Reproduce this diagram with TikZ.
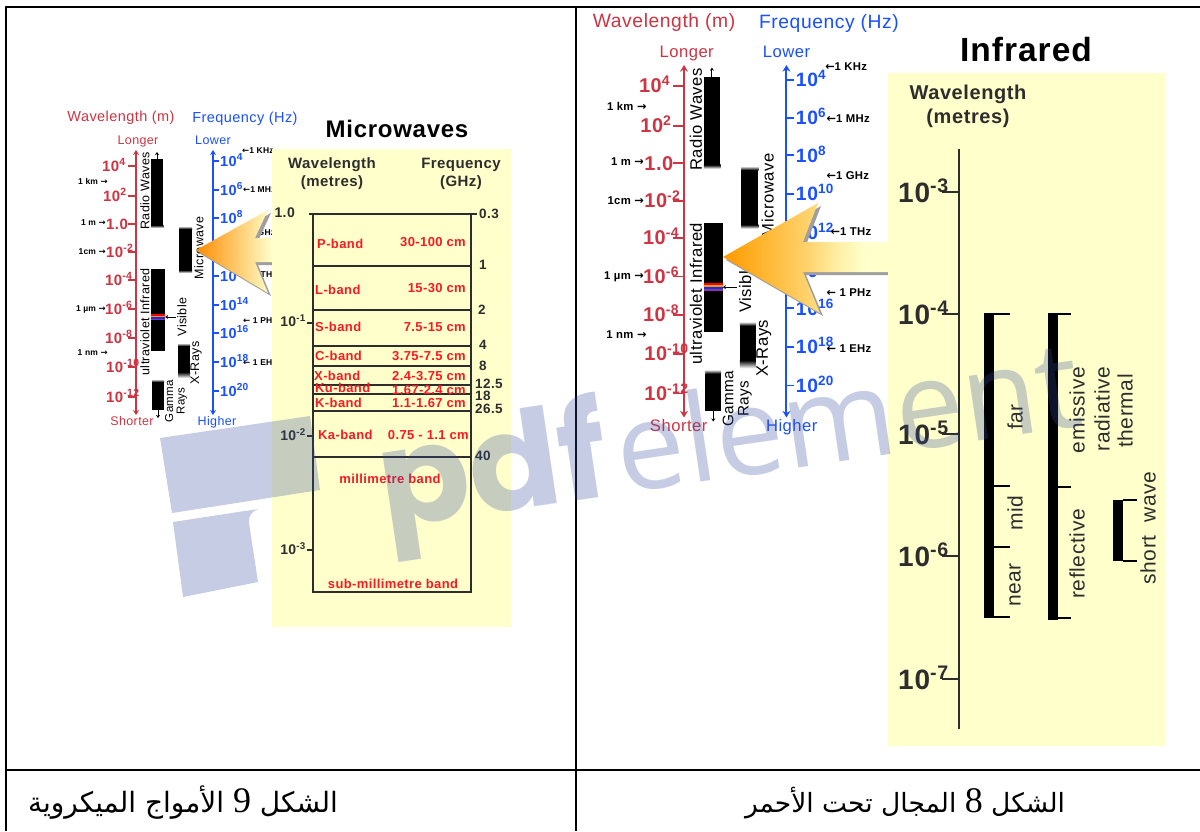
\documentclass[tikz,border=0pt]{standalone}
\usepackage{fontspec}
\usepackage{xcolor}
\usetikzlibrary{arrows.meta, positioning, calc}
\setmainfont[LetterSpace=3]{Liberation Sans}
\newfontfamily\arabicfont[Script=Arabic]{DejaVu Sans}
\newfontfamily\capdigit{Liberation Serif}
\newfontfamily\arrowfont{DejaVu Sans}
\newfontfamily\markbold{Poppins Bold}
\newfontfamily\marklight{Open Sans}
\TeXXeTstate=1
\definecolor{panelyellow}{RGB}{255,255,204}
\definecolor{wlred}{RGB}{206,52,66}
\definecolor{freqblue}{RGB}{25,80,255}
\definecolor{bandred}{RGB}{250,25,35}
\definecolor{darktext}{RGB}{45,45,45}
\definecolor{markblue}{RGB}{51,73,155}
\newcommand{\fs}[1]{\fontsize{#1}{#1}\selectfont}
\newcommand{\toright}{{\arrowfont →}}
\newcommand{\toleft}{{\arrowfont ←}}
\pgfdeclarehorizontalshading{arrowfade}{100bp}{
    rgb(0bp)=(1,0.6,0); rgb(25bp)=(1,0.6,0); rgb(38bp)=(1,0.72,0.2); rgb(50bp)=(1,0.82,0.42);
    rgb(60bp)=(1,0.94,0.65); rgb(68bp)=(1,1,0.8); rgb(100bp)=(1,1,0.8)}
% the scale chart shared by both cells: prefix, x, y, scale, line width
\newcommand{\spectrumchart}[5]{
\begin{scope}[shift={(#2,#3)}, scale=#4, transform shape]
    % Axis titles
    \node[charttitle, color=wlred, font=\fs{14.5}] (#1wltitle) at (-15,-32) {Wavelength (m)};
    \node[charttitle, color=freqblue, font=\fs{14.5}] (#1frtitle) at (109,-31) {Frequency (Hz)};
    \node[charttitle, color=wlred] (#1longer) at (2,-9) {Longer};
    \node[charttitle, color=wlred] (#1shorter) at (-4,271) {Shorter};
    \node[charttitle, color=freqblue] (#1lower) at (77,-10) {Lower};
    \node[charttitle, color=freqblue] (#1higher) at (81,272) {Higher};
    % Axes
    \coordinate (#1rtop) at (0,0);
    \coordinate (#1rbot) at (0,265);
    \coordinate (#1btop) at (77,0);
    \coordinate (#1bbot) at (77,265);
    \draw[line width=#5, wlred, {Stealth[length=5pt,width=6pt,scale=#4]}-{Stealth[length=5pt,width=6pt,scale=#4]}] (#1rtop) -- (#1rbot);
    \draw[line width=#5, freqblue, {Stealth[length=5pt,width=6pt,scale=#4]}-{Stealth[length=5pt,width=6pt,scale=#4]}] (#1btop) -- (#1bbot);
    % Wavelength scale
    \foreach \yy/\lab/\xx in {16/4/-34, 46/2/-33, 102/-2/-30, 130/-4/-31, 159/-6/-31, 188/-8/-31, 217/-10/-30, 247/-12/-30}{
        \draw[line width=#5, wlred] (-8,\yy) -- (0,\yy);
        \node[wlvalue] (#1wl\yy) at (\xx,\yy) {10\textsuperscript{\lab}};
    }
    \draw[line width=#5, wlred] (-8,74) -- (0,74);
    \node[wlvalue] (#1wl74) at (-30,74) {1.0};
    % Frequency scale
    \foreach \yy/\lab in {11/4, 40/6, 68/8, 97/10, 126/12, 155/14, 183/16, 212/18, 241/20}{
        \draw[line width=#5, freqblue] (77,\yy) -- (83,\yy);
        \node[frvalue] (#1fr\yy) at (84,\yy) {10\textsuperscript{\lab}};
    }
    % Tags
    \node[tagtext, anchor=east] (#1km) at (-28,31) {1 km \toright};
    \node[tagtext, anchor=east] (#1m) at (-30,73) {1 m \toright};
    \node[tagtext, anchor=east] (#1cm) at (-30,102) {1cm \toright};
    \node[tagtext, anchor=east] (#1um) at (-30,159) {1 µm \toright};
    \node[tagtext, anchor=east] (#1nm) at (-28,203) {1 nm \toright};
    \node[tagtext, anchor=west] (#1khz) at (106,1) {\toleft 1 KHz};
    \node[tagtext, anchor=west] (#1mhz) at (107,40) {\toleft 1 MHz};
    \node[tagtext, anchor=west] (#1ghz) at (107,83) {\toleft 1 GHz};
    \node[tagtext, anchor=west] (#1thz) at (110,125) {\toleft 1 THz};
    \node[tagtext, anchor=west] (#1phz) at (107,171) {\toleft\ 1 PHz};
    \node[tagtext, anchor=west] (#1ehz) at (107,213) {\toleft\ 1 EHz};
    % Bars
    \node[barbox, minimum width=12.5, minimum height=66] (#1radio) at (21,42) {};
    \shade[top color=black, bottom color=white] (15,75) rectangle (27.5,78);
    \node[barbox, minimum width=14, minimum height=82] (#1uv) at (22,160) {};
    \node[barbox, minimum width=13, minimum height=41] (#1micro) at (49.5,99.5) {};
    \shade[top color=white, bottom color=black] (43,76) rectangle (56,79);
    \shade[top color=black, bottom color=white] (43,120) rectangle (56,123);
    \node[barbox, minimum width=12, minimum height=27] (#1xray) at (48,209) {};
    \shade[top color=white, bottom color=black] (42,193) rectangle (54,196);
    \shade[top color=black, bottom color=white] (42,222) rectangle (54,228);
    \node[barbox, minimum width=12, minimum height=28] (#1gamma) at (22,246) {};
    \shade[top color=white, bottom color=black] (16,229) rectangle (28,232);
    % Visible bands
    \fill[red] (15,164) rectangle (29,165.5);
    \fill[orange!80!yellow] (15,165.5) rectangle (29,167);
    \fill[blue!80!cyan] (15,167) rectangle (29,168.5);
    \fill[violet!80] (15,168.5) rectangle (29,170);
    % Small arrows
    \coordinate (#1radiotip) at (21,2);
    \coordinate (#1gammatip) at (22,268);
    \coordinate (#1vistail) at (40,167);
    \draw[smallarrow] (#1radio.north) -- (#1radiotip);
    \draw[smallarrow] (#1gamma.south) -- (#1gammatip);
    \draw[smallarrow] (#1vistail) -- (#1vistail -| #1uv.east);
    % Band names
    \node[bandname] (#1radiotxt) at (9,41) {Radio Waves};
    \node[bandname] (#1uvtxt) at (9,172) {ultraviolet Infrared};
    \node[bandname] (#1microtxt) at (63,98) {Microwave};
    \node[bandname] (#1vistxt) at (46,167) {Visible};
    \node[bandname] (#1xraytxt) at (60,213) {X-Rays};
    \node[bandname, align=center, font=\fs{11.5}] (#1gammatxt) at (40,251) {Gamma\\Rays};
\end{scope}
}
\begin{document}
\begin{tikzpicture}[x=1pt, y=-1pt,
    charttitle/.style={inner sep=0pt, font=\fs{12.5}},
    wlvalue/.style={anchor=west, inner sep=0pt, text height=10pt, text depth=0pt, color=wlred, font=\fs{15}\bfseries},
    frvalue/.style={anchor=west, inner sep=0pt, text height=10pt, text depth=0pt, color=freqblue, font=\fs{14.5}\bfseries},
    tagtext/.style={inner sep=0pt, font=\fs{8.5}\bfseries},
    barbox/.style={rectangle, fill=black, inner sep=0pt},
    bandname/.style={rotate=90, inner sep=0pt, font=\fs{12.5}},
    smallarrow/.style={-{Stealth[length=3pt,width=4pt]}, line width=0.9pt},
    panel/.style={fill=panelyellow},
    paneltitle/.style={inner sep=0pt, color=black, font=\bfseries},
    head/.style={inner sep=0pt, align=center, color=darktext, font=\fs{15}\bfseries},
    ghzvalue/.style={anchor=west, inner sep=0pt, color=darktext, font=\fs{13.5}\bfseries},
    powvalue/.style={anchor=east, inner sep=0pt, text height=9.5pt, text depth=0pt, color=darktext, font=\fs{14}\bfseries},
    bandlabel/.style={inner sep=0pt, color=bandred, font=\fs{13}\bfseries},
    irlabel/.style={rotate=90, inner sep=0pt, color=darktext, font=\fs{21}},
    irvalue/.style={anchor=west, inner sep=0pt, text height=20pt, text depth=0pt, color=darktext, font=\fs{28}\bfseries},
    captiontext/.style={inner sep=0pt},
    gridline/.style={line width=2pt, black},
    arrowshadow/.style={fill=gray!75, shift={(3,3)}},
    markink/.style={fill=markblue, opacity=0.28}
]
    \useasboundingbox (0,0) rectangle (1200,831);
    \fill[white] (0,0) rectangle (1200,831);

    % Table rules
    \coordinate (gridtl) at (6,7);
    \coordinate (gridtr) at (1200,7);
    \coordinate (gridbl) at (6,831);
    \coordinate (midtop) at (576,7);
    \coordinate (midbot) at (576,831);
    \coordinate (rowl) at (6,770);
    \coordinate (rowr) at (1200,770);
    \draw[gridline] (gridbl) -- (gridtl) -- (gridtr);
    \draw[gridline] (midtop) -- (midbot);
    \draw[gridline] (rowl) -- (rowr);

    % Charts
    \spectrumchart{a}{136}{150}{1}{1.4pt}
    \spectrumchart{b}{684}{65}{1.33}{1.9pt}

    % Arrow shadows
    \fill[arrowshadow] (196,250) -- (268,210) -- (255,238) -- (272,238) -- (272,262) -- (255,262) -- (268,293) -- cycle;
    \fill[arrowshadow] (723,257) -- (818,203) -- (803,242) -- (888,242) -- (888,272) -- (803,272) -- (820,313) -- cycle;

    % Microwaves panel
    \fill[panel] (272,149) rectangle (511,627);
    \node[paneltitle, font=\fs{24}\bfseries] (mwtitle) at (397,129) {Microwaves};
    \node[head] (mwwave) at (332,174) {Wavelength\\[3pt](metres)};
    \node[head] (mwfreq) at (461,174) {Frequency\\[3pt](GHz)};
    % Band table
    \coordinate (mwtl) at (313,214);
    \coordinate (mwbr) at (471,592);
    \draw[line width=1.2pt, darktext] (mwtl) rectangle (mwbr);
    \foreach \yy in {266,310,346,366,385,394,411,457}{
        \draw[line width=1.1pt, darktext] (313,\yy) -- (471,\yy);
    }
    \draw[line width=1.1pt, darktext] (309,214) -- (313,214);
    \draw[line width=1.1pt, darktext] (471,214) -- (477,214);
    % GHz values
    \node[ghzvalue] (ghz0) at (479,214) {0.3};
    \node[ghzvalue] (ghz1) at (479,265) {1};
    \node[ghzvalue] (ghz2) at (478,310) {2};
    \node[ghzvalue] (ghz4) at (479,345) {4};
    \node[ghzvalue] (ghz8) at (479,366) {8};
    \node[ghzvalue] (ghz12) at (475,384) {12.5};
    \node[ghzvalue] (ghz18) at (475,396) {18};
    \node[ghzvalue] (ghz26) at (475,409) {26.5};
    \node[ghzvalue] (ghz40) at (475,456) {40};
    % Metre values
    \node[powvalue] (mw0) at (295,213) {1.0};
    \node[powvalue] (mw1) at (306,322) {10\textsuperscript{-1}};
    \node[powvalue] (mw2) at (306,436) {10\textsuperscript{-2}};
    \node[powvalue] (mw3) at (306,550) {10\textsuperscript{-3}};
    \draw[line width=1.1pt, darktext] (307,323) -- (313,323);
    \draw[line width=1.1pt, darktext] (307,436) -- (313,436);
    \draw[line width=1.1pt, darktext] (307,550) -- (313,550);
    % Band names
    \node[bandlabel, anchor=west] (pband) at (317,244) {P-band};
    \node[bandlabel, anchor=west] (lband) at (315,290) {L-band};
    \node[bandlabel, anchor=west] (sband) at (315,327) {S-band};
    \node[bandlabel, anchor=west] (cband) at (315,356) {C-band};
    \node[bandlabel, anchor=west] (xband) at (314,376) {X-band};
    \node[bandlabel, anchor=west] (kuband) at (315,388) {Ku-band};
    \node[bandlabel, anchor=west] (kband) at (315,403) {K-band};
    \node[bandlabel, anchor=west] (kaband) at (318,435) {Ka-band};
    \node[bandlabel, anchor=east] (prange) at (466,242) {30-100 cm};
    \node[bandlabel, anchor=east] (lrange) at (466,288) {15-30 cm};
    \node[bandlabel, anchor=east] (srange) at (466,327) {7.5-15 cm};
    \node[bandlabel, anchor=east] (crange) at (466,356) {3.75-7.5 cm};
    \node[bandlabel, anchor=east] (xrange) at (466,376) {2.4-3.75 cm};
    \node[bandlabel, anchor=east] (kurange) at (466,390) {1.67-2.4 cm};
    \node[bandlabel, anchor=east] (krange) at (466,403) {1.1-1.67 cm};
    \node[bandlabel, anchor=east] (karange) at (469,435) {0.75 - 1.1 cm};
    \node[bandlabel] (mmband) at (390,479) {millimetre band};
    \node[bandlabel] (submm) at (393,584) {sub-millimetre band};

    % Infrared panel
    \fill[panel] (888,73) rectangle (1165,746);
    \node[paneltitle, font=\fs{33.5}\bfseries] (irtitle) at (1026,50) {Infrared};
    \node[head, font=\fs{20}\bfseries] (irwave) at (968,106) {Wavelength\\[4pt](metres)};
    \coordinate (irtop) at (959,149);
    \coordinate (irbot) at (959,729);
    \draw[line width=1.8pt, darktext] (irtop) -- (irbot);
    \foreach \yy/\lab in {192/-3, 314/-4, 434/-5, 556/-6, 679/-7}{
        \draw[line width=1.8pt, darktext] (942,\yy) -- (959,\yy);
        \node[irvalue] (ir\yy) at (898,\yy) {10\textsuperscript{\lab}};
    }
    % Brackets
    \fill[black] (984,313) rectangle (994,618);
    \fill[black] (1048,313) rectangle (1058,620);
    \fill[black] (1113,500) rectangle (1123,561);
    \foreach \yy in {314,486,547,617}{
        \draw[line width=1.5pt] (994,\yy) -- (1010,\yy);
    }
    \foreach \yy in {314,487,618}{
        \draw[line width=1.5pt] (1058,\yy) -- (1071,\yy);
    }
    \foreach \yy in {500,561}{
        \draw[line width=1.5pt] (1123,\yy) -- (1137,\yy);
    }
    \node[irlabel] (far) at (1015,417) {far};
    \node[irlabel] (mid) at (1015,513) {mid};
    \node[irlabel] (near) at (1015,585) {near};
    \node[irlabel] (emissive) at (1077,410) {emissive};
    \node[irlabel] (radiative) at (1102,409) {radiative};
    \node[irlabel] (thermal) at (1125,411) {thermal};
    \node[irlabel] (reflective) at (1077,554) {reflective};
    \node[irlabel] (shortwave) at (1148,528) {short\ \ wave};

    % Big arrows
    \path[left color=orange!90!yellow, middle color=orange!60!yellow!70!white, right color=panelyellow] (196,250) -- (268,210) -- (255,238) -- (272,238) -- (272,262) -- (255,262) -- (268,293) -- cycle;
    \shade[shading=arrowfade] (723,257) -- (818,203) -- (803,242) -- (888,242) -- (888,272) -- (803,272) -- (820,313) -- cycle;

    % Captions
    \node[captiontext, font=\fs{28}] (cap9) at (183,803) {\arabicfont\beginR الشكل {\fs{36}\capdigit 9} الأمواج الميكروية\endR};
    \node[captiontext, font=\fs{26.5}] (cap8) at (905,803) {\arabicfont\beginR الشكل {\fs{36}\capdigit 8} المجال تحت الأحمر\endR};

    % Watermark
    \fill[markink] (160,438) -- (310,416) -- (320,490) -- (172,513) -- cycle;
    \fill[markink] (173,522) -- (258,509) .. controls (251,512) and (248,517) .. (249,523) -- (258,582) -- (183,597) -- cycle;
    \node[rotate=8.4, anchor=base west, inner sep=0pt, text=markblue, text opacity=0.28] (pdfmark) at (385,529) {\fs{134}{\markbold pdf}\hspace{10pt}{\fs{122}\marklight element}};
\end{tikzpicture}
\end{document}
